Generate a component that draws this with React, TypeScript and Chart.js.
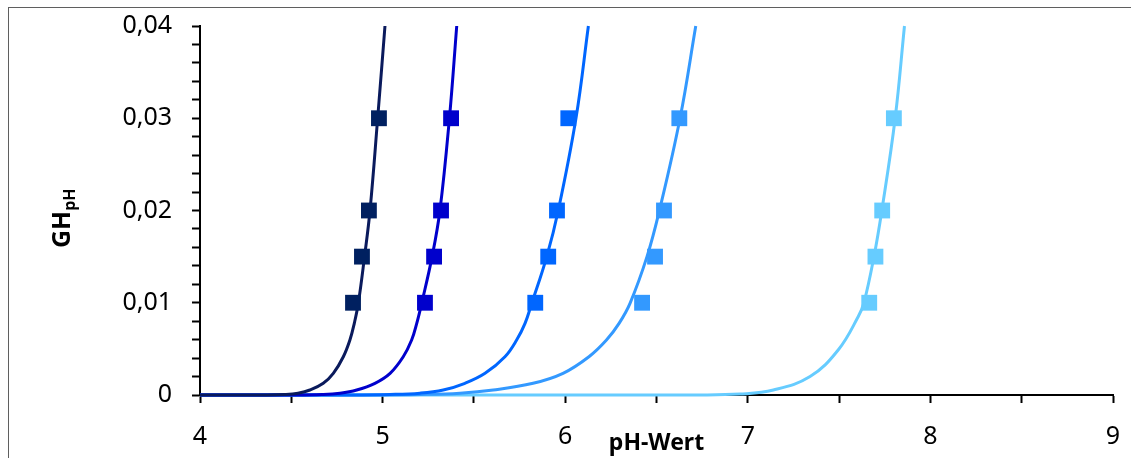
import React, { useEffect, useRef } from "react";
import { Chart, registerables } from "chart.js";

Chart.register(...registerables);

// Y-axis levels at which the square markers sit
const markerGH = [0.01, 0.015, 0.02, 0.03];

// Marker pH positions for each series
const marker1 = [4.838, 4.887, 4.925, 4.98];
const marker2 = [5.232, 5.282, 5.32, 5.375];
const marker3 = [5.836, 5.907, 5.955, 6.017];
const marker4 = [6.421, 6.492, 6.541, 6.625];
const marker5 = [7.665, 7.699, 7.736, 7.8];

// Curve points (GH levels and pH positions)
const curveGH = [0, 0.00001, 0.00006, 0.0002, 0.00054, 0.00127, 0.00235, 0.00415, 0.00596, 0.00777, 0.00994, 0.015, 0.02, 0.03, 0.04];
const curve1pH = [4.0, 4.356, 4.465, 4.537, 4.602, 4.675, 4.73, 4.785, 4.821, 4.845, 4.867, 4.901, 4.931, 4.973, 5.013];
const curve2pH = [4.0, 4.52, 4.668, 4.767, 4.858, 4.958, 5.041, 5.113, 5.159, 5.187, 5.214, 5.271, 5.314, 5.366, 5.406];
const curve3pH = [4.0, 4.82, 5.04, 5.205, 5.332, 5.451, 5.561, 5.67, 5.734, 5.78, 5.817, 5.899, 5.962, 6.059, 6.127];
const curve4pH = [4.0, 4.93, 5.205, 5.424, 5.606, 5.824, 5.988, 6.13, 6.226, 6.295, 6.355, 6.448, 6.516, 6.629, 6.715];
const curve5GH = [0, 0.00001, 0.0001, 0.00054, 0.002, 0.0049, 0.0085, 0.01, 0.015, 0.02, 0.03, 0.04];
const curve5pH = [4.0, 6.75, 6.957, 7.14, 7.341, 7.496, 7.605, 7.636, 7.691, 7.734, 7.807, 7.858];

const lineColors = ["#0a1a5c", "#0000cc", "#0066ff", "#3399ff", "#66ccff"];
const markerColors = ["#002060", "#0000cc", "#0066ff", "#3399ff", "#66ccff"];

const xTitle = "pH-Wert";
const yTitleMain = "GH";
const yTitleSub = "pH";

const FONT = "'Noto Sans', 'Open Sans', sans-serif";

function pts(xs: number[], ys: number[]) {
  return xs.map((x, i) => ({ x, y: ys[i] }));
}

const yTitlePlugin = {
  id: "yTitle",
  afterDraw(chart: any) {
    const ctx = chart.ctx;
    ctx.save();
    ctx.translate(70, 248);
    ctx.rotate(-Math.PI / 2);
    ctx.fillStyle = "#000";
    ctx.textBaseline = "alphabetic";
    ctx.textAlign = "left";
    ctx.font = `bold 25px ${FONT}`;
    ctx.fillText(yTitleMain, 0, 0);
    const w = ctx.measureText(yTitleMain).width;
    ctx.font = `bold 16px ${FONT}`;
    ctx.fillText(yTitleSub, w, 5);
    ctx.restore();
  },
};

export default function App() {
  const ref = useRef<HTMLCanvasElement | null>(null);

  useEffect(() => {
    if (!ref.current) return;
    const markerSets = [marker1, marker2, marker3, marker4, marker5].map((m, i) => ({
      label: "Messwerte " + (i + 1),
      data: pts(m, markerGH),
      showLine: false,
      pointStyle: "rect",
      pointRadius: 11.2,
      pointBorderWidth: 0,
      backgroundColor: markerColors[i],
      borderColor: markerColors[i],
    }));
    const curves = [
      pts(curve1pH, curveGH),
      pts(curve2pH, curveGH),
      pts(curve3pH, curveGH),
      pts(curve4pH, curveGH),
      pts(curve5pH, curve5GH),
    ].map((d, i) => ({
      label: "Kurve " + (i + 1),
      data: d,
      showLine: true,
      pointRadius: 0,
      borderWidth: 3,
      borderColor: lineColors[i],
      backgroundColor: lineColors[i],
      tension: 0.4,
      clip: 10,
    }));

    const chart = new Chart(ref.current, {
      type: "scatter",
      data: { datasets: [...markerSets, ...curves] as any },
      options: {
        animation: false,
        responsive: true,
        maintainAspectRatio: false,
        events: [],
        layout: { padding: { top: 26, right: 18, bottom: 0, left: 0 } },
        plugins: {
          legend: { display: false },
          tooltip: { enabled: false },
        },
        scales: {
          x: {
            type: "linear",
            min: 4,
            max: 9,
            afterFit: (s: any) => {
              s.height = 63;
              s.paddingLeft = 0;
              s.paddingRight = 0;
            },
            ticks: {
              stepSize: 0.5,
              autoSkip: false,
              maxRotation: 0,
              padding: 19,
              color: "#000",
              font: { family: FONT, size: 25 },
              callback: (v: any) => (Math.abs(v - Math.round(v)) < 1e-9 ? String(Math.round(v)) : ""),
            },
            grid: {
              drawOnChartArea: false,
              drawTicks: true,
              tickLength: 8,
              tickColor: "#000",
              tickWidth: 2,
            },
            border: { display: true, color: "#000", width: 2 },
            title: {
              display: true,
              text: xTitle,
              color: "#000",
              font: { family: FONT, size: 23, weight: "bold" },
              padding: { top: 0, bottom: 1 },
            },
          },
          y: {
            type: "linear",
            min: 0,
            max: 0.04,
            afterFit: (s: any) => {
              s.width = 200;
              s.paddingTop = 0;
              s.paddingBottom = 0;
            },
            ticks: {
              stepSize: 0.002,
              autoSkip: false,
              padding: 20,
              color: "#000",
              font: { family: FONT, size: 25 },
              callback: (v: any) => {
                const r = Math.round(v * 1000);
                if (r % 10 !== 0) return "";
                return r === 0 ? "0" : (r / 1000).toFixed(2).replace(".", ",");
              },
            },
            grid: {
              drawOnChartArea: false,
              drawTicks: true,
              tickLength: 8,
              tickColor: "#000",
              tickWidth: 2,
            },
            border: { display: true, color: "#000", width: 2 },
          },
        },
      } as any,
      plugins: [yTitlePlugin],
    });
    return () => chart.destroy();
  }, []);

  return (
    <>
      <div
        style={{
          position: "fixed",
          left: 8,
          top: 7,
          width: 1123,
          height: 451,
          boxSizing: "border-box",
          borderTop: "1px solid #5f5f5f",
          borderLeft: "1px solid #5f5f5f",
          pointerEvents: "none",
        }}
      />
      <div style={{ position: "fixed", left: 0, top: 0, width: 1131, height: 458 }}>
        <canvas ref={ref} />
      </div>
    </>
  );
}
